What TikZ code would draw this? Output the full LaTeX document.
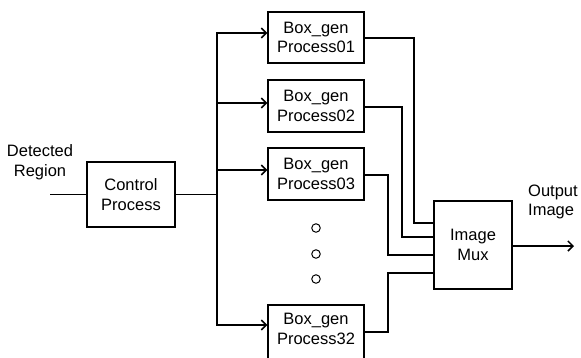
\documentclass[tikz,border=0pt]{standalone}
\usepackage{fontspec}
\setmainfont{Liberation Sans}
\usetikzlibrary{arrows.meta}
\begin{document}
\begin{tikzpicture}[x=1pt,y=-1pt,
  blk/.style={draw, line width=1.3pt, inner sep=0pt, align=center,
    font=\fontsize{16.5}{19.5}\selectfont},
  lbl/.style={inner sep=0pt, font=\fontsize{16.5}{19.5}\selectfont},
  wire/.style={line width=1.8pt},
  arr/.style={wire, -{Straight Barb[length=5pt,width=10pt,line width=1.5pt]}},
  dot/.style={circle, draw, line width=1pt, minimum size=8.5pt, inner sep=0pt}]
\useasboundingbox (0,0) rectangle (581,357);

% processing blocks
\node[blk, minimum width=88pt, minimum height=65pt] (ctrl) at (131,194.5) {Control\\Process};
\node[blk, minimum width=96pt, minimum height=51pt] (p1) at (316,37.5) {Box\_gen\\Process01};
\node[blk, minimum width=96pt, minimum height=52pt] (p2) at (316,106) {Box\_gen\\Process02};
\node[blk, minimum width=96pt, minimum height=52pt] (p3) at (316,174) {Box\_gen\\Process03};
\node[blk, minimum width=96pt, minimum height=55pt] (p32) at (316,332.5) {};
\node[lbl, align=center] (p32t) at (316,329) {Box\_gen\\Process32};
\node[blk, minimum width=78pt, minimum height=88pt] (mux) at (473,245) {Image\\Mux};

% ellipsis between the blocks
\node[dot] (d1) at (316,228) {};
\node[dot] (d2) at (316,254) {};
\node[dot] (d3) at (316,279) {};

% external labels
\node[lbl, align=center] (inlbl) at (40,162) {Detected\\Region};
\node[lbl, align=left, anchor=west] (outlbl) at (528,202) {Output\\Image};

% input and distribution bus
\coordinate (in) at (50,194.5);
\coordinate (bus) at (217,194.5);
\draw[wire] (in) -- (ctrl.west);
\draw[wire] (ctrl.east) -- (bus);
\draw[arr] (bus) |- (p1.west |- 0,33);
\draw[arr] (bus) |- (p2.west |- 0,103);
\draw[arr] (bus) |- (p3.west |- 0,170);
\draw[arr] (bus) |- (p32.west |- 0,325);

% block outputs gathered into the multiplexer
\draw[wire] (p1.east |- 0,38) -| (414,223) -- (mux.west |- 0,223);
\draw[wire] (p2.east |- 0,107) -| (402,237) -- (mux.west |- 0,237);
\draw[wire] (p3.east |- 0,175) -| (388,255) -- (mux.west |- 0,255);
\draw[wire] (p32.east |- 0,332) -| (388,273) -- (mux.west |- 0,273);

% output
\coordinate (out) at (574,246);
\draw[arr] (mux.east |- out) -- (out);
\end{tikzpicture}
\end{document}
